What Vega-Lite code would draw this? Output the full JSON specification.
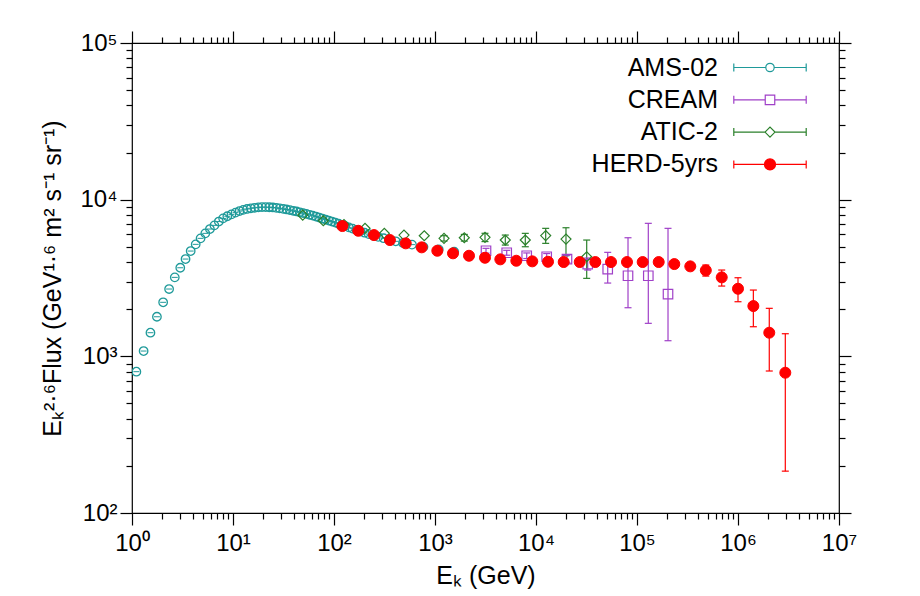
{
  "$schema": "https://vega.github.io/schema/vega-lite/v6.json",
  "width": 707,
  "height": 470,
  "autosize": "none",
  "padding": {"left": 132, "top": 43, "right": 81, "bottom": 83},
  "background": "white",
  "config": {
    "view": {"stroke": "black", "strokeWidth": 1.2},
    "font": "Liberation Sans",
    "axis": {
      "domain": false, "tickColor": "black", "tickWidth": 1.2, "ticks": true,
      "labelColor": "black", "labelFont": "Liberation Sans", "labelFontSize": 24,
      "titleFont": "Liberation Sans", "titleFontSize": 25, "titleFontWeight": "normal", "titleColor": "black",
      "grid": false, "labelOverlap": false, "labelFlush": false, "labelBound": false
    }
  },
  "data": {"values": [
    {"series": "AMS-02", "E": 1.105, "F": 798}, {"series": "AMS-02", "E": 1.303, "F": 1081}, {"series": "AMS-02", "E": 1.523, "F": 1415},
    {"series": "AMS-02", "E": 1.765, "F": 1789}, {"series": "AMS-02", "E": 2.034, "F": 2212}, {"series": "AMS-02", "E": 2.33, "F": 2689},
    {"series": "AMS-02", "E": 2.652, "F": 3192}, {"series": "AMS-02", "E": 3.005, "F": 3676}, {"series": "AMS-02", "E": 3.39, "F": 4178},
    {"series": "AMS-02", "E": 3.811, "F": 4699}, {"series": "AMS-02", "E": 4.272, "F": 5185}, {"series": "AMS-02", "E": 4.775, "F": 5663},
    {"series": "AMS-02", "E": 5.318, "F": 6095}, {"series": "AMS-02", "E": 5.907, "F": 6494}, {"series": "AMS-02", "E": 6.546, "F": 6855},
    {"series": "AMS-02", "E": 7.236, "F": 7250}, {"series": "AMS-02", "E": 7.982, "F": 7597}, {"series": "AMS-02", "E": 8.787, "F": 7835},
    {"series": "AMS-02", "E": 9.654, "F": 8056}, {"series": "AMS-02", "E": 10.6, "F": 8261}, {"series": "AMS-02", "E": 11.6, "F": 8457},
    {"series": "AMS-02", "E": 12.64, "F": 8607}, {"series": "AMS-02", "E": 13.79, "F": 8722}, {"series": "AMS-02", "E": 15.04, "F": 8811},
    {"series": "AMS-02", "E": 16.39, "F": 8877}, {"series": "AMS-02", "E": 17.84, "F": 8930}, {"series": "AMS-02", "E": 19.38, "F": 8957},
    {"series": "AMS-02", "E": 21.03, "F": 8957}, {"series": "AMS-02", "E": 22.83, "F": 8943}, {"series": "AMS-02", "E": 24.78, "F": 8916},
    {"series": "AMS-02", "E": 26.83, "F": 8865}, {"series": "AMS-02", "E": 29.03, "F": 8799}, {"series": "AMS-02", "E": 31.38, "F": 8734},
    {"series": "AMS-02", "E": 33.87, "F": 8658}, {"series": "AMS-02", "E": 36.57, "F": 8581}, {"series": "AMS-02", "E": 39.47, "F": 8494},
    {"series": "AMS-02", "E": 42.57, "F": 8407}, {"series": "AMS-02", "E": 45.87, "F": 8309}, {"series": "AMS-02", "E": 49.42, "F": 8212},
    {"series": "AMS-02", "E": 53.22, "F": 8116}, {"series": "AMS-02", "E": 57.27, "F": 8009}, {"series": "AMS-02", "E": 61.62, "F": 7905},
    {"series": "AMS-02", "E": 66.32, "F": 7802}, {"series": "AMS-02", "E": 71.37, "F": 7689}, {"series": "AMS-02", "E": 76.77, "F": 7577},
    {"series": "AMS-02", "E": 82.57, "F": 7466}, {"series": "AMS-02", "E": 88.8, "F": 7357}, {"series": "AMS-02", "E": 95.6, "F": 7250},
    {"series": "AMS-02", "E": 103.1, "F": 7134}, {"series": "AMS-02", "E": 111.1, "F": 7020}, {"series": "AMS-02", "E": 119.6, "F": 6908},
    {"series": "AMS-02", "E": 129.1, "F": 6786}, {"series": "AMS-02", "E": 140.1, "F": 6657}, {"series": "AMS-02", "E": 152.6, "F": 6531},
    {"series": "AMS-02", "E": 166.6, "F": 6408}, {"series": "AMS-02", "E": 182.6, "F": 6278}, {"series": "AMS-02", "E": 200.6, "F": 6151},
    {"series": "AMS-02", "E": 221, "F": 6025}, {"series": "AMS-02", "E": 245, "F": 5903}, {"series": "AMS-02", "E": 274, "F": 5791},
    {"series": "AMS-02", "E": 309.6, "F": 5674}, {"series": "AMS-02", "E": 353.6, "F": 5550}, {"series": "AMS-02", "E": 409, "F": 5421},
    {"series": "AMS-02", "E": 482, "F": 5295}, {"series": "AMS-02", "E": 591.6, "F": 5164}, {"series": "AMS-02", "E": 769, "F": 4999},
    {"series": "AMS-02", "E": 1089, "F": 4818}, {"series": "AMS-02", "E": 1549, "F": 4651},

    {"series": "CREAM", "E": 3199, "F": 4720, "lo": 4560, "hi": 4890},
    {"series": "CREAM", "E": 5129, "F": 4583, "lo": 4420, "hi": 4750},
    {"series": "CREAM", "E": 8091, "F": 4385, "lo": 4210, "hi": 4570},
    {"series": "CREAM", "E": 12760, "F": 4321, "lo": 4120, "hi": 4530},
    {"series": "CREAM", "E": 20270, "F": 4178, "lo": 3950, "hi": 4420},
    {"series": "CREAM", "E": 32500, "F": 3881, "lo": 3555, "hi": 4241},
    {"series": "CREAM", "E": 51290, "F": 3607, "lo": 2936, "hi": 4610},
    {"series": "CREAM", "E": 81470, "F": 3268, "lo": 2043, "hi": 5714},
    {"series": "CREAM", "E": 129400, "F": 3268, "lo": 1624, "hi": 7062},
    {"series": "CREAM", "E": 202800, "F": 2498, "lo": 1258, "hi": 6561},

    {"series": "ATIC-2", "E": 49, "F": 7975},
    {"series": "ATIC-2", "E": 78.4, "F": 7335},
    {"series": "ATIC-2", "E": 125.6, "F": 6938},
    {"series": "ATIC-2", "E": 202.8, "F": 6561},
    {"series": "ATIC-2", "E": 314.8, "F": 6095},
    {"series": "ATIC-2", "E": 493, "F": 5944},
    {"series": "ATIC-2", "E": 783, "F": 5883},
    {"series": "ATIC-2", "E": 1228, "F": 5662, "lo": 5440, "hi": 5890},
    {"series": "ATIC-2", "E": 1950, "F": 5714, "lo": 5440, "hi": 6000},
    {"series": "ATIC-2", "E": 3126, "F": 5747, "lo": 5400, "hi": 6100},
    {"series": "ATIC-2", "E": 4966, "F": 5524, "lo": 5132, "hi": 5944},
    {"series": "ATIC-2", "E": 7834, "F": 5524, "lo": 5006, "hi": 6095},
    {"series": "ATIC-2", "E": 12470, "F": 5900, "lo": 5262, "hi": 6561},
    {"series": "ATIC-2", "E": 19810, "F": 5605, "lo": 4385, "hi": 6619},
    {"series": "ATIC-2", "E": 31770, "F": 4321, "lo": 3146, "hi": 5524},

    {"series": "HERD-5yrs", "E": 121, "F": 6786}, {"series": "HERD-5yrs", "E": 174, "F": 6331},
    {"series": "HERD-5yrs", "E": 249, "F": 5944}, {"series": "HERD-5yrs", "E": 358, "F": 5524},
    {"series": "HERD-5yrs", "E": 513, "F": 5262}, {"series": "HERD-5yrs", "E": 738, "F": 4962},
    {"series": "HERD-5yrs", "E": 1054, "F": 4720}, {"series": "HERD-5yrs", "E": 1507, "F": 4544},
    {"series": "HERD-5yrs", "E": 2171, "F": 4385}, {"series": "HERD-5yrs", "E": 3126, "F": 4258},
    {"series": "HERD-5yrs", "E": 4433, "F": 4159}, {"series": "HERD-5yrs", "E": 6383, "F": 4075},
    {"series": "HERD-5yrs", "E": 9186, "F": 4039}, {"series": "HERD-5yrs", "E": 13150, "F": 4015},
    {"series": "HERD-5yrs", "E": 18800, "F": 3998}, {"series": "HERD-5yrs", "E": 27100, "F": 3998},
    {"series": "HERD-5yrs", "E": 38650, "F": 3998}, {"series": "HERD-5yrs", "E": 55300, "F": 3998},
    {"series": "HERD-5yrs", "E": 79600, "F": 3998}, {"series": "HERD-5yrs", "E": 113800, "F": 3998},
    {"series": "HERD-5yrs", "E": 164000, "F": 3998},
    {"series": "HERD-5yrs", "E": 234000, "F": 3881, "lo": 3770, "hi": 3998},
    {"series": "HERD-5yrs", "E": 337000, "F": 3752, "lo": 3623, "hi": 3842},
    {"series": "HERD-5yrs", "E": 480000, "F": 3539, "lo": 3253, "hi": 3825},
    {"series": "HERD-5yrs", "E": 690000, "F": 3192, "lo": 2809, "hi": 3555},
    {"series": "HERD-5yrs", "E": 1000000, "F": 2700, "lo": 2231, "hi": 3174},
    {"series": "HERD-5yrs", "E": 1419000, "F": 2094, "lo": 1545, "hi": 2649},
    {"series": "HERD-5yrs", "E": 2040000, "F": 1415, "lo": 806, "hi": 2025},
    {"series": "HERD-5yrs", "E": 2940000, "F": 786, "lo": 185, "hi": 1394}
  ]},
  "layer": [
    {
      "transform": [{"filter": "isValid(datum.lo)"}],
      "mark": {"type": "rule", "strokeWidth": 1.2, "clip": true},
      "encoding": {
        "x": {"field": "E", "type": "quantitative", "scale": {"type": "log", "domain": [1, 10000000]},
          "axis": {"orient": "top", "labels": false, "title": null, "tickSize": 12,
            "values": [1,10,100,1000,1e4,1e5,1e6,1e7]}},
        "y": {"field": "lo", "type": "quantitative", "scale": {"type": "log", "domain": [100, 100000]},
          "axis": {"orient": "right", "labels": false, "title": null, "tickSize": 12,
            "values": [100,1000,1e4,1e5]}},
        "y2": {"field": "hi"},
        "stroke": {"field": "series", "type": "nominal",
          "scale": {"domain": ["AMS-02", "CREAM", "ATIC-2", "HERD-5yrs"], "range": ["#1f9a9a", "#a040c8", "#2b802b", "#ff0000"]},
          "legend": {
            "orient": "none", "legendX": 625.5, "legendY": 12, "title": null,
            "labelAlign": "right", "labelOffset": -64.5, "labelFontSize": 25, "labelFont": "Liberation Sans", "labelColor": "black", "labelLimit": 300,
            "symbolSize": 100, "symbolStrokeWidth": 1.2, "rowPadding": 6.3, "padding": 0,
            "encode": {"symbols": {"update": {
              "shape": {"signal": "datum.value === 'AMS-02' ? 'M-7.24,-0.8L-7.24,0.8M-7.24,0L-0.84,0M0.84,0L7.24,0M7.24,-0.8L7.24,0.8M-0.84,0A0.84,0.84,0,1,1,0.84,0A0.84,0.84,0,1,1,-0.84,0Z' : datum.value === 'CREAM' ? 'M-7.24,-0.8L-7.24,0.8M-7.24,0L-0.95,0M0.95,0L7.24,0M7.24,-0.8L7.24,0.8M-0.95,-0.95L0.95,-0.95L0.95,0.95L-0.95,0.95Z' : datum.value === 'ATIC-2' ? 'M-7.24,-0.8L-7.24,0.8M-7.24,0L-1,0M1,0L7.24,0M7.24,-0.8L7.24,0.8M-1,0L0,-1L1,0L0,1Z' : 'M-7.24,-0.8L-7.24,0.8M-7.24,0L7.24,0M7.24,-0.8L7.24,0.8M-1.1,0A1.1,1.1,0,1,1,1.1,0A1.1,1.1,0,1,1,-1.1,0Z'"},
              "fill": {"signal": "datum.value === 'HERD-5yrs' ? '#ff0000' : 'transparent'"},
              "size": {"value": 100}
            }}}
          }}
      }
    },
    {
      "transform": [{"filter": "isValid(datum.lo)"}],
      "mark": {"type": "point", "shape": "stroke", "size": 49, "strokeWidth": 1.2, "filled": false, "opacity": 1, "clip": true},
      "encoding": {
        "x": {"field": "E", "type": "quantitative",
          "axis": {"orient": "top", "labels": false, "title": null, "tickSize": 6,
            "values": [2,3,4,5,6,7,8,9,20,30,40,50,60,70,80,90,200,300,400,500,600,700,800,900,2000,3000,4000,5000,6000,7000,8000,9000,2e4,3e4,4e4,5e4,6e4,7e4,8e4,9e4,2e5,3e5,4e5,5e5,6e5,7e5,8e5,9e5,2e6,3e6,4e6,5e6,6e6,7e6,8e6,9e6]}},
        "y": {"field": "lo", "type": "quantitative",
          "axis": {"orient": "right", "labels": false, "title": null, "tickSize": 6,
            "values": [200,300,400,500,600,700,800,900,2000,3000,4000,5000,6000,7000,8000,9000,2e4,3e4,4e4,5e4,6e4,7e4,8e4,9e4]}},
        "stroke": {"field": "series", "type": "nominal"}
      }
    },
    {
      "transform": [{"filter": "isValid(datum.hi)"}],
      "mark": {"type": "point", "shape": "stroke", "size": 49, "strokeWidth": 1.2, "filled": false, "opacity": 1, "clip": true},
      "encoding": {
        "x": {"field": "E", "type": "quantitative",
          "axis": {"orient": "bottom", "labels": false, "title": null, "tickSize": 6,
            "values": [2,3,4,5,6,7,8,9,20,30,40,50,60,70,80,90,200,300,400,500,600,700,800,900,2000,3000,4000,5000,6000,7000,8000,9000,2e4,3e4,4e4,5e4,6e4,7e4,8e4,9e4,2e5,3e5,4e5,5e5,6e5,7e5,8e5,9e5,2e6,3e6,4e6,5e6,6e6,7e6,8e6,9e6]}},
        "y": {"field": "hi", "type": "quantitative",
          "axis": {"orient": "left", "labels": false, "title": null, "tickSize": 6,
            "values": [200,300,400,500,600,700,800,900,2000,3000,4000,5000,6000,7000,8000,9000,2e4,3e4,4e4,5e4,6e4,7e4,8e4,9e4]}},
        "stroke": {"field": "series", "type": "nominal"}
      }
    },
    {
      "transform": [{"filter": "datum.series === 'AMS-02'"}],
      "mark": {"type": "point", "shape": "stroke", "size": 36, "strokeWidth": 1, "filled": false, "opacity": 1, "clip": true},
      "encoding": {
        "x": {"field": "E", "type": "quantitative", "axis": null},
        "y": {"field": "F", "type": "quantitative", "axis": null},
        "stroke": {"field": "series", "type": "nominal"}
      }
    },
    {
      "transform": [{"filter": "datum.series === 'AMS-02'"}],
      "mark": {"type": "point", "shape": "circle", "size": 72, "strokeWidth": 1.3, "filled": false, "opacity": 1, "clip": true},
      "encoding": {
        "x": {"field": "E", "type": "quantitative",
          "axis": {"orient": "bottom", "title": "Eₖ (GeV)", "titlePadding": 8, "labelPadding": 6, "tickSize": 12,
            "values": [1,10,100,1000,1e4,1e5,1e6,1e7],
            "labelExpr": "'10' + ['⁰','¹','²','³','⁴','⁵','⁶','⁷'][round(log(datum.value)/LN10)]"}},
        "y": {"field": "F", "type": "quantitative",
          "axis": {"orient": "left", "title": "Eₖ²·⁶Flux (GeV¹·⁶ m² s⁻¹ sr⁻¹)", "titlePadding": 14, "labelPadding": 3, "tickSize": 12,
            "values": [100,1000,1e4,1e5],
            "labelExpr": "'10' + ['⁰','¹','²','³','⁴','⁵','⁶','⁷'][round(log(datum.value)/LN10)]"}},
        "stroke": {"field": "series", "type": "nominal"}
      }
    },
    {
      "transform": [{"filter": "datum.series === 'CREAM'"}],
      "mark": {"type": "point", "shape": "square", "size": 90, "strokeWidth": 1.2, "filled": false, "opacity": 1, "clip": true},
      "encoding": {
        "x": {"field": "E", "type": "quantitative", "axis": null},
        "y": {"field": "F", "type": "quantitative", "axis": null},
        "stroke": {"field": "series", "type": "nominal"}
      }
    },
    {
      "transform": [{"filter": "datum.series === 'ATIC-2'"}],
      "mark": {"type": "point", "shape": "diamond", "size": 100, "strokeWidth": 1.2, "filled": false, "opacity": 1, "clip": true},
      "encoding": {
        "x": {"field": "E", "type": "quantitative", "axis": null},
        "y": {"field": "F", "type": "quantitative", "axis": null},
        "stroke": {"field": "series", "type": "nominal"}
      }
    },
    {
      "transform": [{"filter": "datum.series === 'HERD-5yrs'"}],
      "mark": {"type": "point", "shape": "circle", "size": 121, "strokeWidth": 1, "filled": true, "fill": "#ff0000", "opacity": 1, "clip": true},
      "encoding": {
        "x": {"field": "E", "type": "quantitative", "axis": null},
        "y": {"field": "F", "type": "quantitative", "axis": null},
        "stroke": {"field": "series", "type": "nominal"}
      }
    }
  ],
  "resolve": {"axis": {"x": "independent", "y": "independent"}}
}
